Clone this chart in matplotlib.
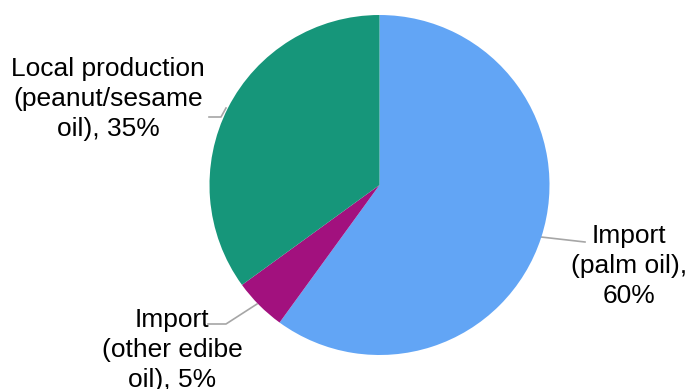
import matplotlib.pyplot as plt
plt.switch_backend('Agg')

labels = ['Import\n(palm oil),\n60%', 'Import\n(other edibe\noil), 5%', 'Local production\n(peanut/sesame\noil), 35%']
shares = [60, 5, 35]
colors = ['#62a5f5', '#a2117e', '#16967a']

# label text centres and leader lines (pixels, y from bottom)
text_pos = [(629, 389 - 266), (172, 389 - 350), (108, 389 - 99)]
leaders = [[(541, 389 - 237), (585, 389 - 242)],
           [(257, 389 - 304), (226, 389 - 324), (208, 389 - 324)],
           [(226, 389 - 108), (221, 389 - 117), (209, 389 - 117)]]

fig = plt.figure(figsize=(6.89, 3.89), dpi=100)
ax = fig.add_axes([0, 0, 1, 1])

ax.pie(shares, colors=colors, startangle=90, counterclock=False,
       center=(379.5, 389 - 185), radius=170, frame=True,
       wedgeprops={'linewidth': 0})
ax.set_xlim(0, 689)
ax.set_ylim(0, 389)
ax.axis('off')

for lab, (x, y), pts in zip(labels, text_pos, leaders):
    xs = [p[0] for p in pts]
    ys = [p[1] for p in pts]
    ax.plot(xs, ys, color='#a6a6a6', lw=1.2, zorder=0.5)
    ax.text(x, y, lab, ha='center', va='center', fontsize=19,
            family='Liberation Sans', linespacing=1.3, color='black')

plt.savefig('out.png', dpi=100)
